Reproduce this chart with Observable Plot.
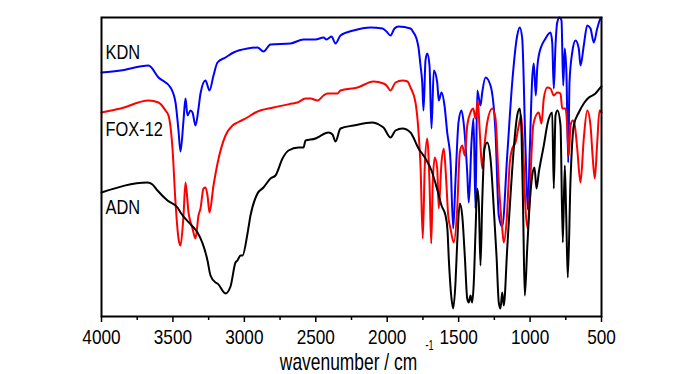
<!DOCTYPE html>
<html>
<head>
<meta charset="utf-8">
<script src="https://cdn.jsdelivr.net/npm/d3@7"></script>
<script src="https://cdn.jsdelivr.net/npm/@observablehq/plot@0.6"></script>
<style>
  html, body { margin: 0; padding: 0; background: #fff; }
  #chart svg { display: block; }
</style>
</head>
<body>
<div id="chart"></div>
<script>
// Wavenumber (cm^-1) and transmittance (arbitrary units, offset traces)
const kdnWn = [4000,3867,3671,3601,3517,3482,3461,3447,3426,3412,3398,3377,3363,3342,3321,3307,3272,3244,3216,3188,3132,3076,2978,2908,2866,2817,2677,2586,2502,2446,2425,2390,2362,2327,2236,2117,2033,2005,1977,1949,1921,1837,1816,1795,1781,1767,1755,1746,1732,1720,1704,1690,1674,1650,1639,1620,1599,1580,1557,1538,1522,1501,1480,1463,1440,1429,1410,1396,1382,1370,1347,1335,1312,1277,1242,1219,1195,1160,1125,1090,1072,1055,1032,1016,1002,985,974,960,950,939,892,857,845,834,822,810,794,780,768,757,745,733,724,705,682,659,647,624,600,577,554,530,507,500];
const kdnT  = [244,246,251,239,229,214,186,165,196,218,201,206,204,191,208,223,236,226,241,254,259,264,268,269,265,272,273,277,277,279,277,280,273,281,286,289,288,285,281,288,290,288,284,278,269,251,234,206,256,263,251,188,246,234,216,224,211,184,156,88,136,194,206,191,144,114,174,198,108,226,211,224,239,231,184,101,90,161,234,281,289,278,168,107,166,238,253,221,248,261,278,284,274,228,271,294,299,296,231,268,241,154,234,264,276,268,251,271,291,288,274,288,298,299];

const foxWn = [4000,3867,3671,3601,3552,3531,3503,3482,3461,3447,3426,3412,3391,3363,3342,3321,3307,3286,3272,3258,3244,3216,3188,3132,3083,3048,2992,2957,2922,2796,2663,2628,2572,2537,2488,2446,2418,2348,2327,2208,2096,2026,2005,1977,1942,1893,1858,1837,1802,1779,1767,1751,1737,1720,1704,1692,1681,1667,1650,1639,1620,1604,1587,1573,1557,1534,1510,1492,1475,1457,1440,1417,1398,1382,1366,1352,1335,1324,1300,1265,1242,1219,1195,1184,1165,1142,1125,1102,1079,1062,1048,1032,1016,997,978,950,939,920,904,880,857,834,810,787,775,752,740,729,717,701,687,670,647,624,600,577,561,547,530,514,500];
const foxT  = [204,208,216,214,206,201,168,114,78,71,101,134,104,88,78,101,108,128,129,121,104,131,153,181,191,194,198,201,204,209,213,214,218,218,216,221,223,223,226,229,235,233,231,226,234,236,235,229,214,181,151,78,151,178,134,73,134,159,148,108,154,168,136,101,88,74,108,164,171,161,191,204,208,198,216,184,148,164,194,208,198,134,88,74,94,154,168,174,191,201,168,108,88,141,191,203,204,193,218,229,228,221,224,223,208,208,191,161,191,196,191,168,134,178,206,191,158,138,174,206,204];

const adnWn = [4000,3678,3643,3608,3538,3468,3447,3356,3328,3258,3237,3202,3188,3132,3097,3062,3048,3027,3013,2978,2957,2908,2866,2817,2782,2733,2691,2621,2586,2572,2502,2488,2411,2383,2362,2327,2236,2103,2047,2026,1977,1942,1893,1837,1781,1732,1690,1648,1620,1592,1578,1569,1550,1538,1522,1510,1492,1475,1457,1440,1429,1417,1405,1394,1382,1370,1359,1347,1335,1319,1300,1277,1254,1235,1219,1207,1195,1184,1160,1137,1114,1090,1072,1060,1048,1037,1020,1002,985,969,955,939,904,876,845,834,822,808,787,771,757,747,736,717,694,659,624,596,542,507,500];
const adnT  = [124,134,132,126,116,109,104,89,84,56,41,34,33,23,30,54,56,61,61,83,101,123,129,138,141,158,166,169,169,176,178,179,184,182,175,188,191,194,191,189,179,186,188,184,168,158,146,126,111,101,86,58,18,8,34,74,113,101,61,18,14,21,14,34,84,128,114,51,114,168,174,158,108,61,14,8,24,11,68,121,168,201,208,184,101,21,68,114,141,149,128,144,171,194,204,128,201,206,191,74,151,101,39,136,191,204,213,218,223,229,230];

const seriesNames  = ["KDN", "FOX-12", "ADN"];
const seriesColors = ["#0000ff", "#ff0000", "#000000"];
const labelT       = [264, 186.5, 108.5];

const majorTicks = [4000, 3500, 3000, 2500, 2000, 1500, 1000, 500];
const minorTicks = [3750, 3250, 2750, 2250, 1750, 1250, 750];

const axisTitle = "wavenumber / cm";
const axisTitleSup = "-1";

const toRows = (name, wn, t) => wn.map((w, i) => ({name, wn: w, t: t[i]}));
const rows = [
  ...toRows("KDN", kdnWn, kdnT),
  ...toRows("FOX-12", foxWn, foxT),
  ...toRows("ADN", adnWn, adnT)
];
const labels = seriesNames.map((n, i) => ({name: n, wn: 4000, t: labelT[i]}));

const FONT = "'Liberation Sans', Arial, sans-serif";

const chart = Plot.plot({
  width: 700,
  height: 374,
  marginLeft: 101,
  marginRight: 99,
  marginTop: 17,
  marginBottom: 58,
  style: {fontFamily: FONT, background: "#fff", color: "#000"},
  x: {domain: [4000, 500], range: [101, 601]},
  y: {domain: [0, 299], axis: null},
  color: {domain: seriesNames, range: seriesColors},
  marks: [
    Plot.axisX({ticks: minorTicks, tickSize: 4, text: null, label: null, strokeWidth: 1.5}),
    Plot.axisX({ticks: majorTicks, tickSize: 6, tickPadding: 7, strokeWidth: 1.5, fontSize: 21, label: null, tickFormat: d => String(d)}),
    Plot.line(rows, {x: "wn", y: "t", z: "name", stroke: "name", strokeWidth: 2, curve: "monotone-x"}),
    Plot.frame({stroke: "#000", strokeWidth: 2}),
    Plot.text(labels, {x: "wn", y: "t", text: "name", textAnchor: "start", dx: 4, fontSize: 20, fill: "#000"}),
    Plot.text([axisTitle], {frameAnchor: "bottom", lineAnchor: "middle", dy: 45.5, dx: -3, fontSize: 24, fill: "#000", text: d => d}),
    Plot.text([axisTitleSup], {frameAnchor: "bottom", lineAnchor: "middle", textAnchor: "start", dy: 29, dx: 74, fontSize: 14, fill: "#000", text: d => d})
  ]
});
document.getElementById("chart").appendChild(chart);

// The reference uses narrow glyphs: compress texts horizontally.
chart.querySelectorAll("text").forEach(t => {
  const s = t.textContent;
  const k = s === axisTitle ? 0.725 : s === axisTitleSup ? 0.65 : 0.82;
  const len = t.getComputedTextLength();
  if (len > 0) {
    t.setAttribute("textLength", (len * k).toFixed(1));
    t.setAttribute("lengthAdjust", "spacingAndGlyphs");
  }
});
</script>
</body>
</html>
